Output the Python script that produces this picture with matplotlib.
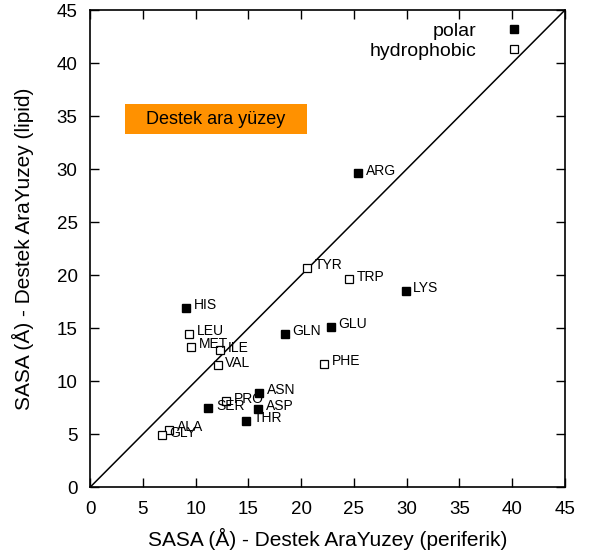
import matplotlib.pyplot as plt
from matplotlib.patches import Rectangle

plt.rcParams['font.family'] = ['Liberation Sans', 'DejaVu Sans']

# SASA values per residue: peripheral vs lipid interface
polar_names = ['ARG', 'LYS', 'HIS', 'GLN', 'GLU', 'ASN', 'ASP', 'THR', 'SER']
polar_x = [25.4, 29.9, 9.1, 18.45, 22.8, 16.0, 15.9, 14.8, 11.2]
polar_y = [29.6, 18.5, 16.9, 14.5, 15.1, 8.9, 7.4, 6.25, 7.45]

hydro_names = ['TYR', 'TRP', 'LEU', 'MET', 'ILE', 'VAL', 'PHE', 'PRO', 'ALA', 'GLY']
hydro_x = [20.6, 24.5, 9.4, 9.6, 12.3, 12.1, 22.2, 12.9, 7.5, 6.8]
hydro_y = [20.7, 19.6, 14.5, 13.25, 12.9, 11.5, 11.6, 8.1, 5.4, 4.9]

lim = [0, 45]
ticks = list(range(0, 50, 5))

fig = plt.figure(figsize=(5.93, 5.6), dpi=100)
ax = fig.add_axes([0.1518, 0.1298, 0.801, 0.8523])

ax.plot(lim, lim, color='black', lw=1.1, zorder=1)

ax.plot(polar_x, polar_y, 's', ms=6.3, color='black', mec='black',
        ls='none', label='polar', zorder=3)
ax.plot(hydro_x, hydro_y, 's', ms=6.3, mfc='white', mec='black', mew=0.9,
        ls='none', label='hydrophobic', zorder=3)

for names, xs, ys in [(polar_names, polar_x, polar_y), (hydro_names, hydro_x, hydro_y)]:
    for n, x, y in zip(names, xs, ys):
        ax.annotate(n, (x, y), xytext=(5.5, 2), textcoords='offset points',
                    fontsize=10, va='center', ha='left', zorder=4)

# orange label box
ax.add_patch(Rectangle((3.32, 33.31), 17.24, 2.83, facecolor='#ff9100',
                       edgecolor='none', zorder=2))
ax.text(11.94, 34.72, 'Destek ara yüzey', fontsize=13, ha='center',
        va='center', zorder=3)

ax.set_xlim(lim)
ax.set_ylim(lim)
ax.set_xticks(ticks)
ax.set_yticks(ticks)
ax.tick_params(direction='in', length=6.5, width=1, labelsize=13.5,
               top=True, right=True)
ax.tick_params(axis='x', pad=10)
ax.tick_params(axis='y', pad=9)
for s in ax.spines.values():
    s.set_linewidth(1.2)

ax.set_xlabel('SASA (Å) - Destek AraYuzey (periferik)', fontsize=15, labelpad=7)
ax.set_ylabel('SASA (Å) - Destek AraYuzey (lipid)', fontsize=15, labelpad=16)

ax.legend(loc='upper right', bbox_to_anchor=(0.9137, 0.975), markerfirst=False,
          frameon=False, fontsize=14, handlelength=1, handletextpad=1.46,
          borderpad=0, borderaxespad=0, labelspacing=0.12)

fig.savefig('out.png', dpi=100)
